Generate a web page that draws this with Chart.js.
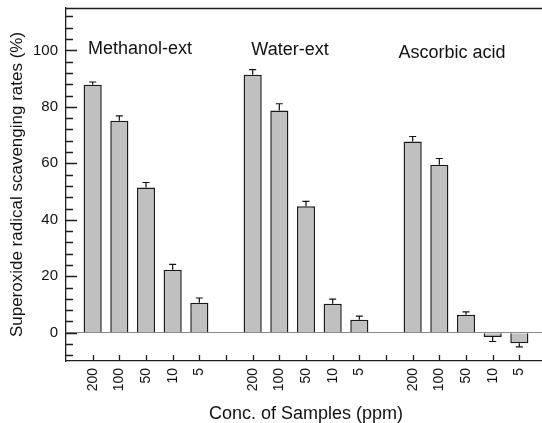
<!DOCTYPE html>
<html>
<head>
<meta charset="utf-8">
<script src="https://cdn.jsdelivr.net/npm/chart.js@4"></script>
<style>
  html, body { margin: 0; padding: 0; overflow: hidden; background: #fff; }
</style>
</head>
<body>
<canvas id="scavengingChart" width="546" height="423"></canvas>
<script>
// sample groups and the concentrations tested in each
const groups = ['Methanol-ext', 'Water-ext', 'Ascorbic acid'];
const concentrations = ['200', '100', '50', '10', '5'];

// scavenging rates (%) and their error bars
const methanolExt = [87.8, 75.1, 51.4, 22.3, 10.6];
const methanolErr = [1.0, 1.7, 1.8, 1.9, 1.7];
const waterExt = [91.4, 78.7, 44.8, 10.3, 4.6];
const waterErr = [1.8, 2.4, 1.7, 1.6, 1.3];
const ascorbicAcid = [67.7, 59.5, 6.4, -1.5, -3.7];
const ascorbicErr = [1.8, 2.2, 1.0, 1.6, 1.3];

// y ticks (minor every 4, labelled every 20)
const yTicks = [-8, -4, 0, 4, 8, 12, 16, 20, 24, 28, 32, 36, 40, 44, 48, 52, 56, 60,
                64, 68, 72, 76, 80, 84, 88, 92, 96, 100, 104, 108, 112];
const yLabels = [0, 20, 40, 60, 80, 100];

// one empty slot before, between and after the groups
const labels = [''];
const values = [null];
const errors = [null];
[[methanolExt, methanolErr], [waterExt, waterErr], [ascorbicAcid, ascorbicErr]].forEach(([v, e]) => {
    labels.push(...concentrations, '');
    values.push(...v, null);
    errors.push(...e, null);
});

const AXIS_COLOR = '#1e1e1e';

const framePlugin = {
    id: 'frame',
    afterDatasetsDraw(chart) {
        // error bars, drawn away from zero
        const ctx = chart.ctx;
        const yScale = chart.scales.y;
        const meta = chart.getDatasetMeta(0);
        ctx.save();
        ctx.strokeStyle = '#111';
        ctx.lineWidth = 1.2;
        meta.data.forEach((bar, i) => {
            const v = values[i];
            if (v === null) return;
            const end = yScale.getPixelForValue(v >= 0 ? v + errors[i] : v - errors[i]);
            ctx.beginPath();
            ctx.moveTo(bar.x, bar.y);
            ctx.lineTo(bar.x, end);
            ctx.moveTo(bar.x - 3.5, end);
            ctx.lineTo(bar.x + 3.5, end);
            ctx.stroke();
        });
        ctx.restore();
    },
    afterDraw(chart) {
        const ctx = chart.ctx;
        const area = chart.chartArea;
        const xScale = chart.scales.x;
        const yScale = chart.scales.y;
        ctx.save();
        ctx.strokeStyle = AXIS_COLOR;
        ctx.lineWidth = 1.3;
        ctx.beginPath();
        // top frame line
        ctx.moveTo(area.left, area.top + 0.5);
        ctx.lineTo(area.right, area.top + 0.5);
        // y ticks pointing inward
        yTicks.forEach(v => {
            const py = Math.round(yScale.getPixelForValue(v)) + 0.5;
            const len = yLabels.includes(v) ? 11 : 7;
            ctx.moveTo(area.left, py);
            ctx.lineTo(area.left + len, py);
        });
        // x ticks pointing inward
        for (let i = 1; i < labels.length; i++) {
            const px = Math.round(xScale.getPixelForValue(i)) + 0.5;
            ctx.moveTo(px, area.bottom);
            ctx.lineTo(px, area.bottom - 6);
        }
        ctx.stroke();

        // group captions
        const spots = [{ slot: 3, dx: -6, v: 100.4 }, { slot: 9, dx: -16, v: 100.2 }, { slot: 15, dx: -14, v: 99.2 }];
        ctx.fillStyle = '#111';
        ctx.font = '18px "Liberation Sans", Arial, sans-serif';
        ctx.textAlign = 'center';
        ctx.textBaseline = 'middle';
        groups.forEach((g, i) => {
            const s = spots[i];
            ctx.fillText(g, xScale.getPixelForValue(s.slot) + s.dx, yScale.getPixelForValue(s.v));
        });
        ctx.restore();
    }
};

const ctx = document.getElementById('scavengingChart').getContext('2d');
new Chart(ctx, {
    type: 'bar',
    data: {
        labels: labels,
        datasets: [{
            data: values,
            backgroundColor: '#c0c0c0',
            borderColor: '#1a1a1a',
            borderWidth: 1.5,
            categoryPercentage: 1,
            barPercentage: 0.68
        }]
    },
    options: {
        responsive: false,
        animation: false,
        layout: { padding: { top: 8, left: 0, right: 0, bottom: 0 } },
        plugins: {
            legend: { display: false },
            tooltip: { enabled: false }
        },
        scales: {
            x: {
                offset: false,
                grid: { display: false, drawTicks: false },
                border: { display: true, color: AXIS_COLOR, width: 1.3 },
                ticks: {
                    autoSkip: false,
                    maxRotation: 90,
                    minRotation: 90,
                    padding: 7,
                    color: '#111',
                    font: { family: '"Liberation Sans", Arial, sans-serif', size: 14 }
                },
                title: {
                    display: true,
                    text: 'Conc. of Samples (ppm)',
                    color: '#111',
                    padding: 0,
                    font: { family: '"Liberation Sans", Arial, sans-serif', size: 18, lineHeight: 1 }
                },
                afterFit(scale) {
                    scale.height = 62;
                    scale.paddingLeft = 0;
                    scale.paddingRight = 0;
                }
            },
            y: {
                min: -10,
                max: 115,
                afterBuildTicks(scale) {
                    scale.ticks = yTicks.map(v => ({ value: v }));
                },
                grid: {
                    drawTicks: false,
                    lineWidth: 1,
                    color: c => (c.tick && c.tick.value === 0 ? '#8a8a8a' : 'rgba(0,0,0,0)')
                },
                border: { display: true, color: AXIS_COLOR, width: 1.3 },
                ticks: {
                    autoSkip: false,
                    padding: 8,
                    color: '#111',
                    font: { family: '"Liberation Sans", Arial, sans-serif', size: 15 },
                    callback: v => (yLabels.includes(v) ? v : '')
                },
                title: {
                    display: true,
                    text: 'Superoxide radical scavenging rates (%)',
                    color: '#111',
                    padding: { top: 9, bottom: 0 },
                    font: { family: '"Liberation Sans", Arial, sans-serif', size: 17, lineHeight: 1 }
                },
                afterFit(scale) {
                    scale.width = 66;
                    scale.paddingTop = 0;
                    scale.paddingBottom = 0;
                }
            }
        }
    },
    plugins: [framePlugin]
});
</script>
</body>
</html>
